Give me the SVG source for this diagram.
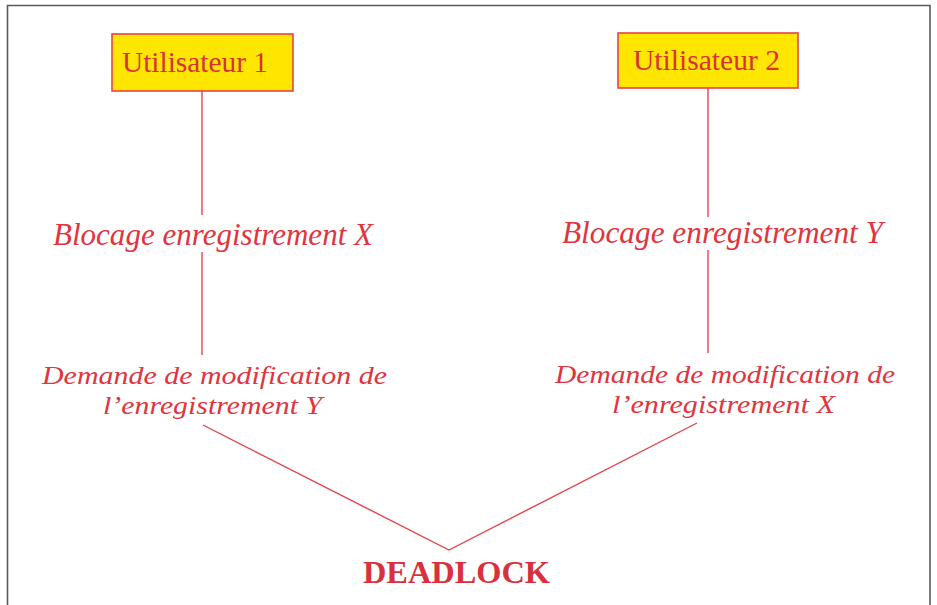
<svg xmlns="http://www.w3.org/2000/svg" width="937" height="605" viewBox="0 0 937 605">
<style>
.frame{fill:none;stroke:#5a5a5a;stroke-width:1.6}
.box{fill:#ffe600;stroke:#e8424a;stroke-width:1.6}
.boxt{font-family:"Liberation Serif","Times New Roman",serif;font-size:30px;fill:#d8323c;text-anchor:middle}
.it{font-family:"Liberation Serif","Times New Roman",serif;font-size:31px;font-style:italic;fill:#e0343e;text-anchor:middle}
.it2{font-family:"Liberation Serif","Times New Roman",serif;font-size:26px;font-style:italic;fill:#e0343e;text-anchor:middle}
.bold{font-family:"Liberation Serif","Times New Roman",serif;font-size:32px;font-weight:bold;fill:#d8303c;text-anchor:middle}
.con{stroke:#e2444a;stroke-width:1.4;fill:none}
</style>
<rect width="937" height="605" fill="#ffffff"/>
<path class="frame" d="M7.5,610 V5.5 H930 V610"/>
<g id="connectors">
<line class="con" x1="202" y1="91" x2="202" y2="215"/>
<line class="con" x1="202" y1="252" x2="202" y2="355"/>
<line class="con" x1="708" y1="88" x2="708" y2="217"/>
<line class="con" x1="708" y1="250" x2="708" y2="353"/>
<polyline class="con" points="203,425 449,550 697,423"/>
</g>
<g id="user1">
<rect class="box" x="112" y="34" width="181" height="57"/>
<text class="boxt" x="195" y="72" textLength="146" lengthAdjust="spacingAndGlyphs">Utilisateur 1</text>
</g>
<g id="user2">
<rect class="box" x="618" y="33" width="180" height="55"/>
<text class="boxt" x="706.5" y="70" textLength="147" lengthAdjust="spacingAndGlyphs">Utilisateur 2</text>
</g>
<g id="lockX">
<text class="it" x="213" y="245" textLength="320" lengthAdjust="spacingAndGlyphs">Blocage enregistrement X</text>
</g>
<g id="lockY">
<text class="it" x="722.5" y="243" textLength="321" lengthAdjust="spacingAndGlyphs">Blocage enregistrement Y</text>
</g>
<g id="reqY">
<text class="it2" x="214.5" y="384" textLength="345" lengthAdjust="spacingAndGlyphs">Demande de modification de</text>
<text class="it2" x="212.5" y="414" textLength="219" lengthAdjust="spacingAndGlyphs">l’enregistrement Y</text>
</g>
<g id="reqX">
<text class="it2" x="725" y="383" textLength="340" lengthAdjust="spacingAndGlyphs">Demande de modification de</text>
<text class="it2" x="723.5" y="413" textLength="223" lengthAdjust="spacingAndGlyphs">l’enregistrement X</text>
</g>
<g id="deadlock">
<text class="bold" x="456.5" y="583" textLength="187" lengthAdjust="spacingAndGlyphs">DEADLOCK</text>
</g>
</svg>
